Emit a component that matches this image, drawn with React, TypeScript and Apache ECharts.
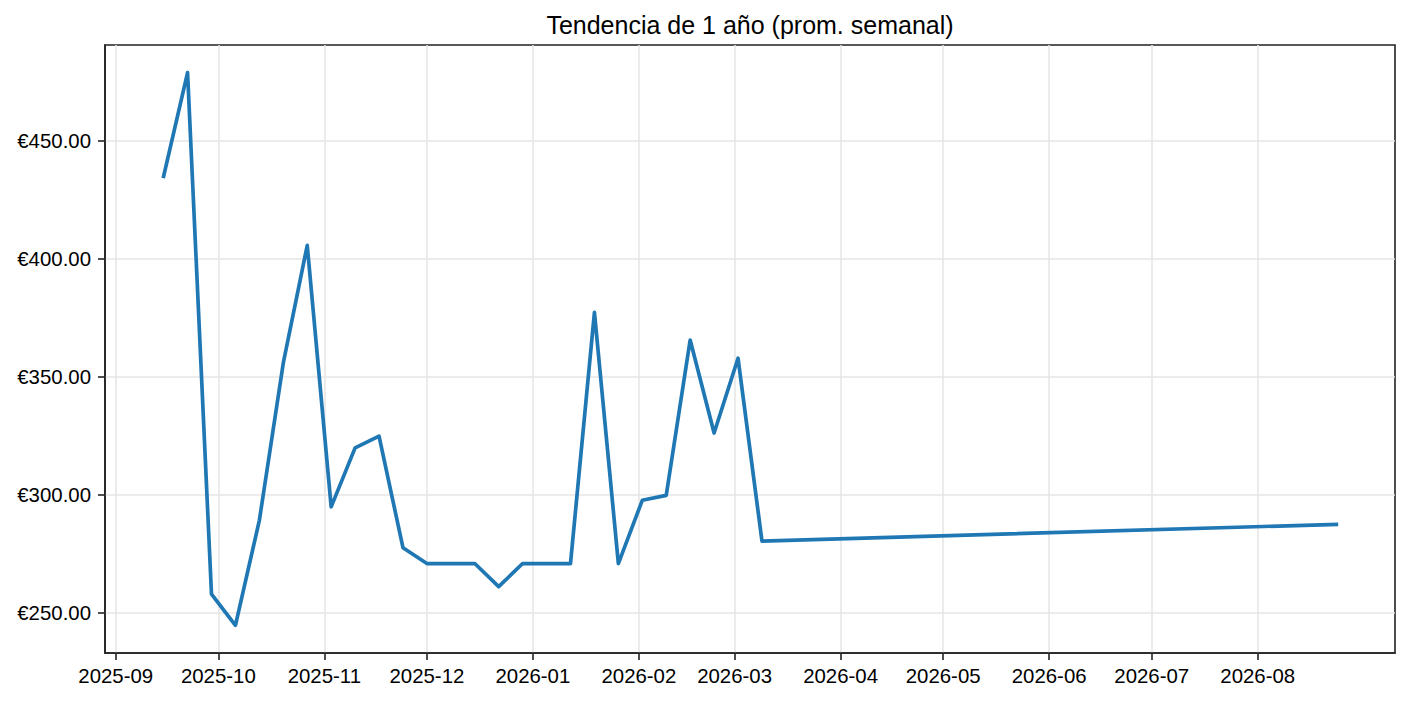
import React, { useEffect, useRef } from "react";
import * as echarts from "echarts";

const weekDates = [
  "2025-09-15", "2025-09-22", "2025-09-29", "2025-10-06", "2025-10-13", "2025-10-20", "2025-10-27",
  "2025-11-03", "2025-11-10", "2025-11-17", "2025-11-24", "2025-12-01", "2025-12-08", "2025-12-15",
  "2025-12-22", "2025-12-29", "2026-01-05", "2026-01-12", "2026-01-19", "2026-01-26", "2026-02-02",
  "2026-02-09", "2026-02-16", "2026-02-23", "2026-03-02", "2026-03-09", "2026-08-24",
];
const weeklyAvg = [
  435.1, 479.0, 258.0, 244.8, 289.3, 356.0, 405.8,
  295.0, 320.0, 325.0, 277.7, 271.0, 271.0, 271.0,
  261.2, 271.0, 271.0, 271.0, 377.4, 271.0, 297.8,
  299.9, 365.7, 326.3, 358.0, 280.5, 287.6,
];
const monthTicks = [
  "2025-09-01", "2025-10-01", "2025-11-01", "2025-12-01", "2026-01-01", "2026-02-01",
  "2026-03-01", "2026-04-01", "2026-05-01", "2026-06-01", "2026-07-01", "2026-08-01",
];
const yTicks = [250, 300, 350, 400, 450];
const titleText = "Tendencia de 1 año (prom. semanal)";

const toTs = (s: string) => {
  const [y, m, d] = s.split("-").map(Number);
  return Date.UTC(y, m - 1, d);
};
const pad2 = (n: number) => (n < 10 ? "0" + n : "" + n);

export default function App() {
  const ref = useRef<HTMLDivElement>(null);
  useEffect(() => {
    if (!ref.current) return;
    const chart = echarts.init(ref.current, undefined, { renderer: "svg" });
    const xs = weekDates.map(toTs);
    const day = 86400000;
    const span = xs[xs.length - 1] - xs[0];
    const xMin = xs[0] - span * 0.05;
    const xMax = xs[xs.length - 1] + span * 0.05;
    const yLo = Math.min(...weeklyAvg);
    const yHi = Math.max(...weeklyAvg);
    const yMin = yLo - (yHi - yLo) * 0.05;
    const yMax = yHi + (yHi - yLo) * 0.05;
    const font = "'Liberation Sans', Arial, Helvetica, sans-serif";
    const axisColor = "#222222";
    const gridColor = "#e6e6e6";
    const xTickVals = monthTicks.map(toTs);
    const gridLeft = 105;
    const gridRight = 15;
    chart.setOption({
      animation: false,
      backgroundColor: "#ffffff",
      title: {
        text: titleText,
        left: gridLeft + (1410 - gridLeft - gridRight) / 2,
        textAlign: "center",
        top: 12,
        padding: 0,
        textStyle: { fontFamily: font, fontSize: 25, fontWeight: "normal", color: "#000000" },
      },
      grid: {
        left: gridLeft,
        right: gridRight,
        top: 45,
        bottom: 51,
        show: true,
        borderColor: axisColor,
        borderWidth: 1.6,
        backgroundColor: "transparent",
        containLabel: false,
      },
      xAxis: {
        type: "value",
        min: xMin,
        max: xMax,
        axisLine: { show: true, onZero: false, lineStyle: { color: axisColor, width: 1.6 } },
        axisTick: {
          show: true,
          length: 7,
          lineStyle: { color: axisColor, width: 1.6 },
          customValues: xTickVals,
        },
        axisLabel: {
          customValues: xTickVals,
          margin: 13,
          fontFamily: font,
          fontSize: 20.4,
          color: "#000000",
          hideOverlap: false,
          formatter: (v: number) => {
            const d = new Date(v + day / 2);
            return d.getUTCFullYear() + "-" + pad2(d.getUTCMonth() + 1);
          },
        },
        splitLine: { show: true, lineStyle: { color: gridColor, width: 1.6 } },
      },
      yAxis: {
        type: "value",
        min: yMin,
        max: yMax,
        axisLine: { show: true, onZero: false, lineStyle: { color: axisColor, width: 1.6 } },
        axisTick: {
          show: true,
          length: 7,
          lineStyle: { color: axisColor, width: 1.6 },
          customValues: yTicks,
        },
        axisLabel: {
          customValues: yTicks,
          margin: 14,
          fontFamily: font,
          fontSize: 20.4,
          color: "#000000",
          formatter: (v: number) => "€" + v.toFixed(2),
        },
        splitLine: { show: true, lineStyle: { color: gridColor, width: 1.6 } },
      },
      series: [
        {
          type: "line",
          data: xs.map((x, i) => [x, weeklyAvg[i]]),
          showSymbol: false,
          symbol: "none",
          lineStyle: { color: "#1f77b4", width: 3.7, join: "round", cap: "square" },
        },
      ],
    });
    return () => chart.dispose();
  }, []);
  return (
    <div
      ref={ref}
      style={{ position: "fixed", left: 0, top: 0, width: 1410, height: 704, background: "#fff" }}
    />
  );
}
